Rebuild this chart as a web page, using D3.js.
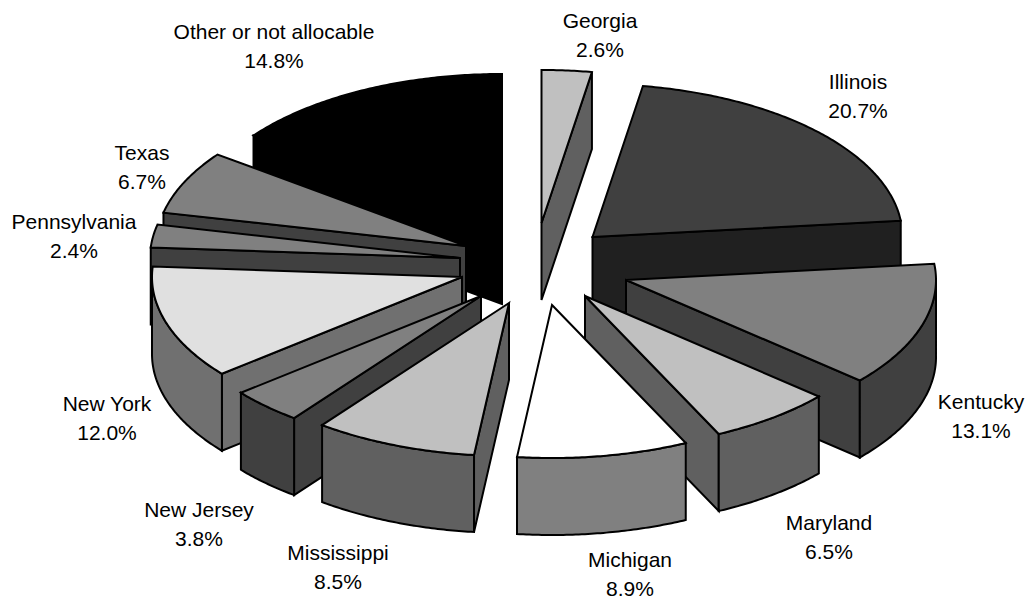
<!DOCTYPE html>
<html>
<head>
<meta charset="utf-8">
<style>
  html, body { margin: 0; padding: 0; background: #fff; overflow: hidden; }
  svg { display: block; }
  text { font-family: "Liberation Sans", Arial, sans-serif; font-size: 21px; fill: #000; text-anchor: middle; }
</style>
<script src="https://cdn.jsdelivr.net/npm/d3@7/dist/d3.min.js"></script>
</head>
<body>
<svg id="chart" width="1025" height="596"></svg>
<script>
// Shares by state, clockwise from twelve o'clock
const states = ["Georgia", "Illinois", "Kentucky", "Maryland", "Michigan", "Mississippi",
                "New Jersey", "New York", "Pennsylvania", "Texas", "Other or not allocable"];
const shares = [2.6, 20.7, 13.1, 6.5, 8.9, 8.5, 3.8, 12.0, 2.4, 6.7, 14.8];

// Face shades: the lit top and the shaded walls of each slice
const topShades  = ["#c0c0c0", "#404040", "#808080", "#c0c0c0", "#ffffff", "#c0c0c0",
                    "#808080", "#e0e0e0", "#808080", "#808080", "#000000"];
const wallShades = ["#606060", "#202020", "#404040", "#606060", "#808080", "#606060",
                    "#404040", "#707070", "#404040", "#404040", "#000000"];

// How far each slice is pulled out of the pie, horizontally and vertically
const pullX = [6.5, 57.5, 91, 50, 17, -26, -54, -73, -75, -69, -33];
const pullY = [-40, -26, 17, 33, 42, 40, 33, 14, -5, -17, -36];

// Label centres (x) and first baselines (y)
const labelX = [600, 858, 981, 829, 630, 338, 199, 107, 74, 142, 274];
const labelY = [27.5, 88.5, 408.5, 530, 567, 560, 517, 411, 228.5, 159.5, 38.5];

// Back-to-front painting order of the slices
const paintOrder = [10, 0, 1, 2, 3, 9, 8, 7, 6, 5, 4];

const cx = 535, cy = 263, rx = 310, ry = 153, depth = 77, lineGap = 29;

const pie = d3.pie().sort(null).value(d => d);
const arcs = pie(shares);

const svg = d3.select("#chart");
const line = d3.line().curve(d3.curveLinear);

// Ground-plane angle (0 = up, clockwise) to a screen point for a slice
const rim = (s, a, drop = 0) => [
  s.ax + rx * Math.sin(a),
  s.ay - ry * Math.cos(a) + drop
];
const sampleAngles = (a0, a1) => {
  const n = Math.max(2, Math.ceil(Math.abs(a1 - a0) / 0.01));
  return d3.range(n + 1).map(i => a0 + (a1 - a0) * i / n);
};

const slices = arcs.map((d, i) => ({
  i,
  a0: d.startAngle,
  a1: d.endAngle,
  ax: cx + pullX[i],
  ay: cy + pullY[i]
}));

const groups = svg.append("g")
  .attr("stroke", "#000")
  .attr("stroke-width", 2)
  .attr("stroke-linejoin", "miter")
  .attr("stroke-miterlimit", 4)
  .selectAll("g")
  .data(paintOrder.map(i => slices[i]))
  .join("g");

// Flat radial cut that faces the viewer
groups.each(function (s) {
  const g = d3.select(this);
  const fill = wallShades[s.i];
  const cuts = [];
  if (s.a0 > Math.PI) cuts.push(s.a0);
  if (s.a1 < Math.PI) cuts.push(s.a1);
  cuts.forEach(a => {
    const p = rim(s, a);
    const q = rim(s, a, depth);
    g.append("path")
      .attr("fill", fill)
      .attr("d", line([[s.ax, s.ay], p, q, [s.ax, s.ay + depth]]) + "Z");
  });

  // Curved outer wall, only along the near half of the rim
  const w0 = Math.max(s.a0, Math.PI / 2);
  const w1 = Math.min(s.a1, Math.PI * 1.5);
  if (w1 > w0) {
    const angles = sampleAngles(w0, w1);
    const upper = angles.map(a => rim(s, a));
    const lower = angles.slice().reverse().map(a => rim(s, a, depth));
    g.append("path")
      .attr("fill", fill)
      .attr("d", line(upper.concat(lower)) + "Z");
  }

  // Top face
  const edge = sampleAngles(s.a0, s.a1).map(a => rim(s, a));
  g.append("path")
    .attr("fill", topShades[s.i])
    .attr("d", line([[s.ax, s.ay]].concat(edge)) + "Z");
});

// Two-line labels: name above share
const labels = svg.append("g")
  .selectAll("text")
  .data(states)
  .join("text")
  .attr("x", (d, i) => labelX[i])
  .attr("y", (d, i) => labelY[i]);
labels.append("tspan").text(d => d);
labels.append("tspan")
  .attr("x", (d, i) => labelX[i])
  .attr("dy", lineGap)
  .text((d, i) => shares[i].toFixed(1) + "%");
</script>
</body>
</html>
